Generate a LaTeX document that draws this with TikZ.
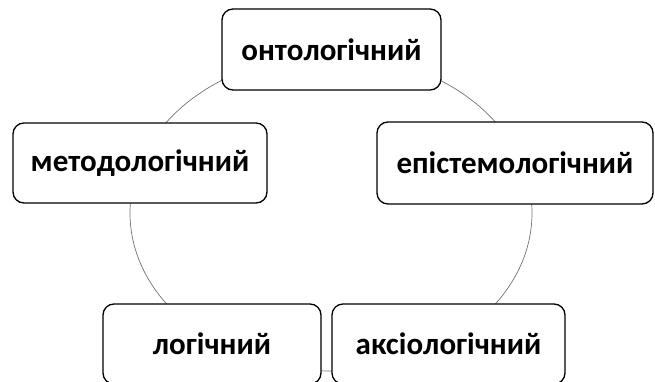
\documentclass[tikz,border=0pt]{standalone}
\usepackage{fontspec}
\setmainfont{Carlito}
\begin{document}
\begin{tikzpicture}[x=1pt,y=1pt,
  cyc/.style={draw=black!55, line width=0.7pt},
  boxnode/.style={draw=black, line width=1.3pt, fill=white, rounded corners=11pt,
    inner sep=0pt, align=center, font=\fontsize{31}{34}\selectfont\bfseries}]
\useasboundingbox (0,0) rectangle (655,381);
\coordinate (c) at (331,168);
\draw[cyc] (c) ellipse [x radius=201, y radius=158];
\node[boxnode, minimum width=219pt, minimum height=81pt] (onto) at (331.5,331.5) {онтологічний};
\node[boxnode, minimum width=254pt, minimum height=80pt] (meth) at (140,218) {методологічний};
\node[boxnode, minimum width=276pt, minimum height=82pt] (epis) at (515,218) {епістемологічний};
\node[boxnode, minimum width=218pt, minimum height=80pt] (logi) at (212,37) {логічний};
\node[boxnode, minimum width=233pt, minimum height=80pt] (axio) at (448.5,37) {аксіологічний};
\end{tikzpicture}
\end{document}
